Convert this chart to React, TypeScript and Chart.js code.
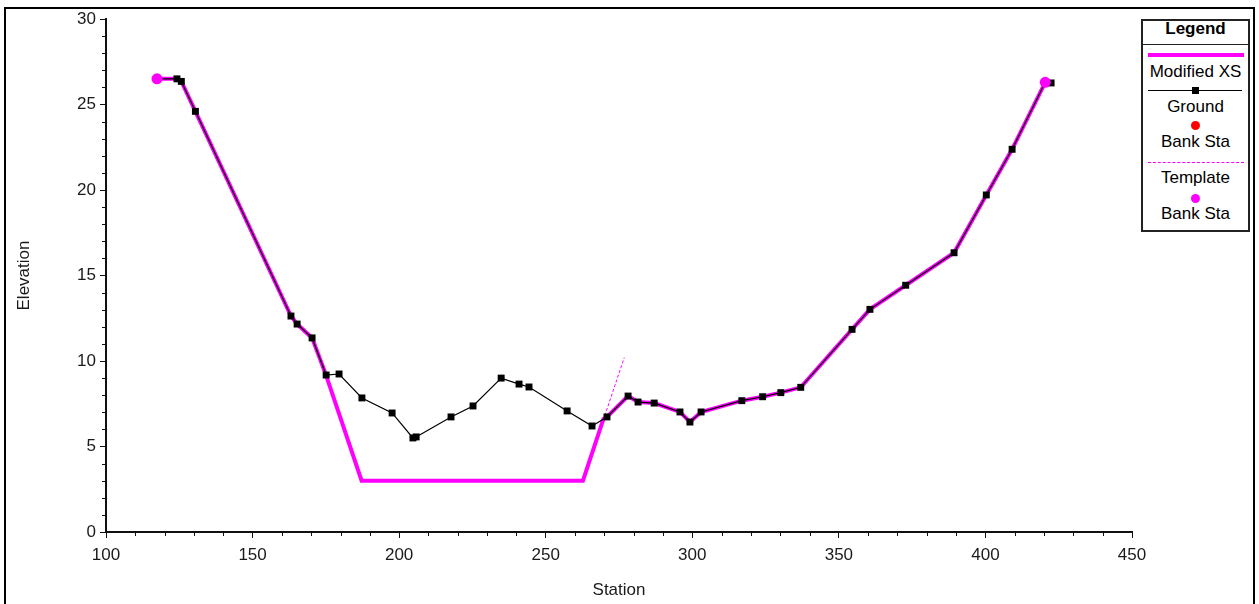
import React, { useEffect, useRef } from 'react';
import { Chart, registerables } from 'chart.js';

Chart.register(...registerables);

// ---- Data ----
const groundStation = [
  117.4, 124.2, 125.7, 130.5, 163.1, 165.2, 170.3, 175.1, 179.5, 187.3,
  197.6, 204.7, 205.8, 217.7, 225.2, 234.8, 240.9, 244.3, 257.3, 265.8,
  270.9, 278.1, 281.5, 287.0, 295.8, 299.2, 303.0, 316.9, 324.0, 330.2,
  337.0, 354.5, 360.6, 372.8, 389.3, 400.3, 409.1, 420.4, 422.4,
];
const groundElev = [
  26.5, 26.5, 26.35, 24.6, 12.63, 12.16, 11.35, 9.18, 9.24, 7.84,
  6.96, 5.5, 5.56, 6.73, 7.37, 9.0, 8.65, 8.48, 7.08, 6.2,
  6.73, 7.95, 7.6, 7.54, 7.02, 6.43, 7.02, 7.68, 7.91, 8.15,
  8.46, 11.85, 13.02, 14.43, 16.33, 19.71, 22.38, 26.3, 26.26,
];

const modifiedStation = [
  117.4, 124.2, 125.7, 130.5, 163.1, 165.2, 170.3, 174.8, 187.2, 262.7,
  269.7, 270.9, 278.1, 281.5, 287.0, 295.8, 299.2, 303.0, 316.9, 324.0,
  330.2, 337.0, 354.5, 360.6, 372.8, 389.3, 400.3, 409.1, 420.4,
];
const modifiedElev = [
  26.5, 26.5, 26.35, 24.6, 12.63, 12.16, 11.35, 9.3, 3.0, 3.0,
  6.62, 6.73, 7.95, 7.6, 7.54, 7.02, 6.43, 7.02, 7.68, 7.91,
  8.15, 8.46, 11.85, 13.02, 14.43, 16.33, 19.71, 22.38, 26.3,
];

const templateStation = [173.0, 187.2, 262.7, 276.8];
const templateElev = [10.2, 3.0, 3.0, 10.2];

const bankStation = [117.4, 420.4];
const groundBankElev = [26.5, 26.3];
const templateBankElev = [26.5, 26.3];

const xTickValues = [100, 150, 200, 250, 300, 350, 400, 450];
const yTickValues = [0, 5, 10, 15, 20, 25, 30];
const xMinorStep = 10;
const yMinorStep = 1;

const legendItems = ['Modified XS', 'Ground', 'Bank Sta', 'Template', 'Bank Sta'];

const FONT = "'Liberation Sans', Arial, sans-serif";
const AXIS = '#111';
const TEXT = '#1a1a1a';
const MAGENTA = '#ff00ff';

const pts = (xs: number[], ys: number[]) => xs.map((x, i) => ({ x, y: ys[i] }));

const minorTicksPlugin = {
  id: 'minorTicks',
  afterDraw(chart: any) {
    const { ctx, chartArea, scales } = chart;
    const xs = scales.x;
    const ys = scales.y;
    ctx.save();
    ctx.strokeStyle = AXIS;
    ctx.lineWidth = 1;
    ctx.beginPath();
    for (let v = xs.min; v <= xs.max; v += xMinorStep) {
      if (xTickValues.includes(v)) continue;
      const px = Math.round(xs.getPixelForValue(v)) + 0.5;
      ctx.moveTo(px, chartArea.bottom);
      ctx.lineTo(px, chartArea.bottom + 4);
    }
    for (let v = ys.min; v <= ys.max; v += yMinorStep) {
      if (yTickValues.includes(v)) continue;
      const py = Math.round(ys.getPixelForValue(v)) + 0.5;
      ctx.moveTo(chartArea.left, py);
      ctx.lineTo(chartArea.left - 4, py);
    }
    ctx.stroke();
    ctx.restore();
  },
};

function LegendBox() {
  const text = (label: string, capCenter: number, bold = false) => (
    <div
      key={label + capCenter}
      style={{
        position: 'absolute',
        left: 0,
        width: '100%',
        top: capCenter - 19 - 10,
        lineHeight: '20px',
        fontSize: 17,
        fontWeight: bold ? 'bold' : 'normal',
        fontFamily: FONT,
        textAlign: 'center',
        color: '#000',
        whiteSpace: 'nowrap',
      }}
    >
      {label}
    </div>
  );
  const abs = (style: any, key: string) => <div key={key} style={{ position: 'absolute', ...style }} />;
  return (
    <div
      style={{
        position: 'absolute',
        left: 1141,
        top: 19,
        width: 109,
        height: 213,
        boxSizing: 'border-box',
        border: '2px solid #222',
        background: '#fff',
      }}
    >
      <div style={{ position: 'absolute', left: -2, top: -2, width: 109, height: 213 }}>
        {text('Legend', 29.2, true)}
        {abs({ left: 0, width: 109, top: 44 - 19, height: 1, background: '#222' }, 'sep')}
        {abs({ left: 7, width: 96, top: 53 - 19, height: 4, background: MAGENTA }, 'l1')}
        {text(legendItems[0], 72)}
        {abs({ left: 7, width: 94, top: 90 - 19, height: 1, background: '#000' }, 'l2')}
        {abs({ left: 51, width: 7, top: 87 - 19, height: 7, background: '#000' }, 'm2')}
        {text(legendItems[1], 106.7)}
        {abs({ left: 50, width: 9, top: 121 - 19, height: 9, borderRadius: 5, background: '#ff0000' }, 'm3')}
        {text(legendItems[2], 142.3)}
        {abs({ left: 7, width: 96, top: 162 - 19, height: 0, borderTop: `1px dashed ${MAGENTA}` }, 'l4')}
        {text(legendItems[3], 178.3)}
        {abs({ left: 50, width: 9, top: 194 - 19, height: 9, borderRadius: 5, background: MAGENTA }, 'm5')}
        {text(legendItems[4], 213.7)}
      </div>
    </div>
  );
}

export default function App() {
  const canvasRef = useRef<HTMLCanvasElement | null>(null);

  useEffect(() => {
    if (!canvasRef.current) return;
    const tickFont = { family: FONT, size: 17 };
    const chart = new Chart(canvasRef.current, {
      type: 'scatter',
      data: {
        datasets: [
          {
            label: 'Template Bank Sta',
            data: pts(bankStation, templateBankElev),
            showLine: false,
            pointStyle: 'circle',
            pointRadius: 5.5,
            backgroundColor: MAGENTA,
            borderColor: MAGENTA,
            borderWidth: 0,
            order: 0,
          },
          {
            label: 'Ground Bank Sta',
            data: pts(bankStation, groundBankElev),
            showLine: false,
            pointStyle: 'circle',
            pointRadius: 4.5,
            backgroundColor: '#ff0000',
            borderColor: '#ff0000',
            borderWidth: 0,
            order: 1,
          },
          {
            label: 'Ground',
            data: pts(groundStation, groundElev),
            showLine: true,
            borderColor: '#000',
            borderWidth: 1.2,
            pointStyle: 'rect',
            pointRadius: 4.9,
            pointBackgroundColor: '#000',
            pointBorderColor: '#000',
            pointBorderWidth: 0,
            order: 2,
          },
          {
            label: 'Modified XS',
            data: pts(modifiedStation, modifiedElev),
            showLine: true,
            borderColor: MAGENTA,
            borderWidth: 4,
            pointRadius: 0,
            order: 3,
          },
          {
            label: 'Template',
            data: pts(templateStation, templateElev),
            showLine: true,
            borderColor: MAGENTA,
            borderWidth: 1,
            borderDash: [3, 2],
            pointRadius: 0,
            order: 4,
          },
        ],
      },
      options: {
        animation: false,
        responsive: true,
        maintainAspectRatio: false,
        layout: { padding: { left: 0, top: 19, right: 127, bottom: 0 } },
        plugins: {
          legend: { display: false },
          tooltip: { enabled: false },
        },
        scales: {
          x: {
            type: 'linear',
            min: 100,
            max: 450,
            afterBuildTicks: (s: any) => {
              s.ticks = xTickValues.map((v) => ({ value: v }));
            },
            afterFit: (s: any) => {
              s.height = 72;
            },
            ticks: { font: tickFont, color: TEXT, padding: 7, maxRotation: 0 },
            grid: {
              drawOnChartArea: false,
              drawTicks: true,
              tickLength: 6,
              tickColor: AXIS,
              tickWidth: 1,
            },
            border: { display: true, color: AXIS, width: 2 },
            title: {
              display: true,
              text: 'Station',
              font: { family: FONT, size: 17 },
              color: TEXT,
              padding: { top: 0, bottom: 3.5 },
            },
          },
          y: {
            type: 'linear',
            min: 0,
            max: 30,
            afterBuildTicks: (s: any) => {
              s.ticks = yTickValues.map((v) => ({ value: v }));
            },
            afterFit: (s: any) => {
              s.width = 106;
            },
            ticks: { font: tickFont, color: TEXT, padding: 4 },
            grid: {
              drawOnChartArea: false,
              drawTicks: true,
              tickLength: 6,
              tickColor: AXIS,
              tickWidth: 1,
            },
            border: { display: true, color: AXIS, width: 2 },
            title: {
              display: true,
              text: 'Elevation',
              font: { family: FONT, size: 17 },
              color: TEXT,
              padding: { top: 14, bottom: 0 },
            },
          },
        },
      },
      plugins: [minorTicksPlugin],
    } as any);
    return () => chart.destroy();
  }, []);

  return (
    <div
      style={{
        position: 'fixed',
        left: 0,
        top: 0,
        width: 1259,
        height: 604,
        overflow: 'hidden',
        background: '#fff',
      }}
    >
      <div
        style={{
          position: 'absolute',
          left: 4,
          top: 7,
          width: 1251,
          height: 620,
          boxSizing: 'border-box',
          border: '2px solid #000',
        }}
      />
      <div style={{ position: 'absolute', left: 0, top: 0, width: 1259, height: 604 }}>
        <canvas ref={canvasRef} />
      </div>
      <LegendBox />
    </div>
  );
}
